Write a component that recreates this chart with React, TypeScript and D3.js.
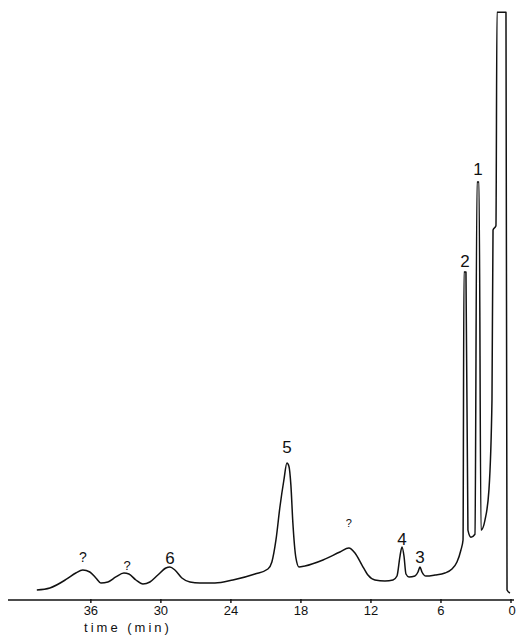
import React from "react";
import * as d3 from "d3";

// Chromatogram trace: retention time (min) and detector response (% of full scale)
const timeMin = [
  40.63, 39.51, 38.06, 37.29, 36.69, 36.09, 35.57, 35.14, 34.54, 33.86, 33.17, 32.74,
  32.14, 31.54, 30.94, 30.26, 29.57, 29.23, 28.8, 28.2, 27.51, 26.66, 25.37, 23.83,
  21.94, 20.83, 20.49, 20.14, 19.8, 19.46, 19.2, 19.03, 18.86, 18.69, 18.43, 18.17,
  17.66, 16.11, 14.66, 13.89, 13.37, 12.77, 12.26, 11.66, 10.8, 10.11, 9.77, 9.51,
  9.34, 9.17, 9.0, 8.74, 8.23, 7.97, 7.8, 7.63, 7.29, 6.51, 5.66, 5.06, 4.63, 4.29,
  4.11, 4.03, 3.86, 3.69, 3.43, 3.09, 2.91, 2.74, 2.57, 2.23, 1.89, 1.63, 1.54, 1.29,
  1.2, 0.43, 0.34, 0.09,
];
const response = [
  1.69, 2.03, 3.55, 4.56, 5.07, 4.73, 3.72, 2.87, 3.04, 3.89, 4.56, 4.39,
  3.38, 2.7, 3.04, 4.22, 5.41, 5.57, 5.07, 3.72, 3.04, 2.87, 2.87, 3.38,
  4.39, 5.24, 6.42, 10.14, 15.71, 20.27, 23.14, 22.6, 19.4, 13.0, 7.1, 5.57,
  5.74, 6.76, 8.11, 8.78, 7.94, 5.91, 4.22, 3.38, 3.21, 3.38, 4.05, 7.43,
  8.95, 7.43, 4.39, 3.89, 4.05, 4.73, 5.57, 4.73, 4.05, 4.22, 4.56, 5.24, 6.42, 8.45,
  10.14, 55.4, 55.4, 11.8, 10.6, 11.1, 70.6, 70.6, 11.8, 13.5, 18.6, 33.8, 62.5, 63.2,
  99.3, 99.3, 1.69, 1.18,
];

// Peak identification
const peakNames = ["?", "?", "6", "5", "?", "4", "3", "2", "1"];
const peakTimes = [36.69, 32.9, 29.23, 19.2, 13.89, 9.34, 7.8, 3.95, 2.83];
const peakHeights = [5.07, 4.56, 5.57, 23.14, 8.78, 8.95, 5.57, 55.4, 70.6];
// label sizing / lift above the peak apex (px)
const peakFont = [14, 13, 17, 17, 11, 17, 17, 17, 17];
const peakLift = [8, 3, 3, 10, 21, 2, 4, 5, 7];

const tickValues = [36, 30, 24, 18, 12, 6, 0];

const W = 516;
const H = 637;

export default function App() {
  const x = d3.scaleLinear().domain([43.1, 0]).range([8, 511]);
  const y = d3.scaleLinear().domain([0, 100]).range([600, 8]);

  const pts: [number, number][] = timeMin
    .map((t, i) => [x(t), y(response[i])] as [number, number])
    .sort((a, b) => a[0] - b[0]);

  const line = d3
    .line<[number, number]>()
    .x((d) => d[0])
    .y((d) => d[1])
    .curve(d3.curveMonotoneX);

  const axisY = y(0);
  const font = "'Liberation Sans', 'DejaVu Sans', Arial, sans-serif";

  return (
    <svg
      width={W}
      height={H}
      viewBox={`0 0 ${W} ${H}`}
      style={{ position: "absolute", left: 0, top: 0, background: "#fff", display: "block" }}
    >
      <path d={line(pts) || ""} fill="none" stroke="#111" strokeWidth={1.5} strokeLinejoin="round" />

      {/* time axis */}
      <line x1={8} x2={514} y1={axisY} y2={axisY} stroke="#111" strokeWidth={1.4} />
      {tickValues.map((v) => (
        <g key={v}>
          <line x1={x(v)} x2={x(v)} y1={axisY - 1} y2={axisY + 3} stroke="#111" strokeWidth={1.4} />
          <text
            x={x(v) + (v === 0 ? 1 : 0)}
            y={axisY + 15}
            textAnchor="middle"
            fontFamily={font}
            fontSize={13}
            fill="#111"
          >
            {v}
          </text>
        </g>
      ))}
      <text
        x={128}
        y={632}
        textAnchor="middle"
        fontFamily={font}
        fontSize={13}
        letterSpacing={3}
        fill="#111"
      >
        time (min)
      </text>

      {peakNames.map((name, i) => (
        <text
          key={i}
          x={x(peakTimes[i])}
          y={y(peakHeights[i]) - peakLift[i]}
          textAnchor="middle"
          fontFamily={font}
          fontSize={peakFont[i]}
          fill="#111"
        >
          {name}
        </text>
      ))}
    </svg>
  );
}
